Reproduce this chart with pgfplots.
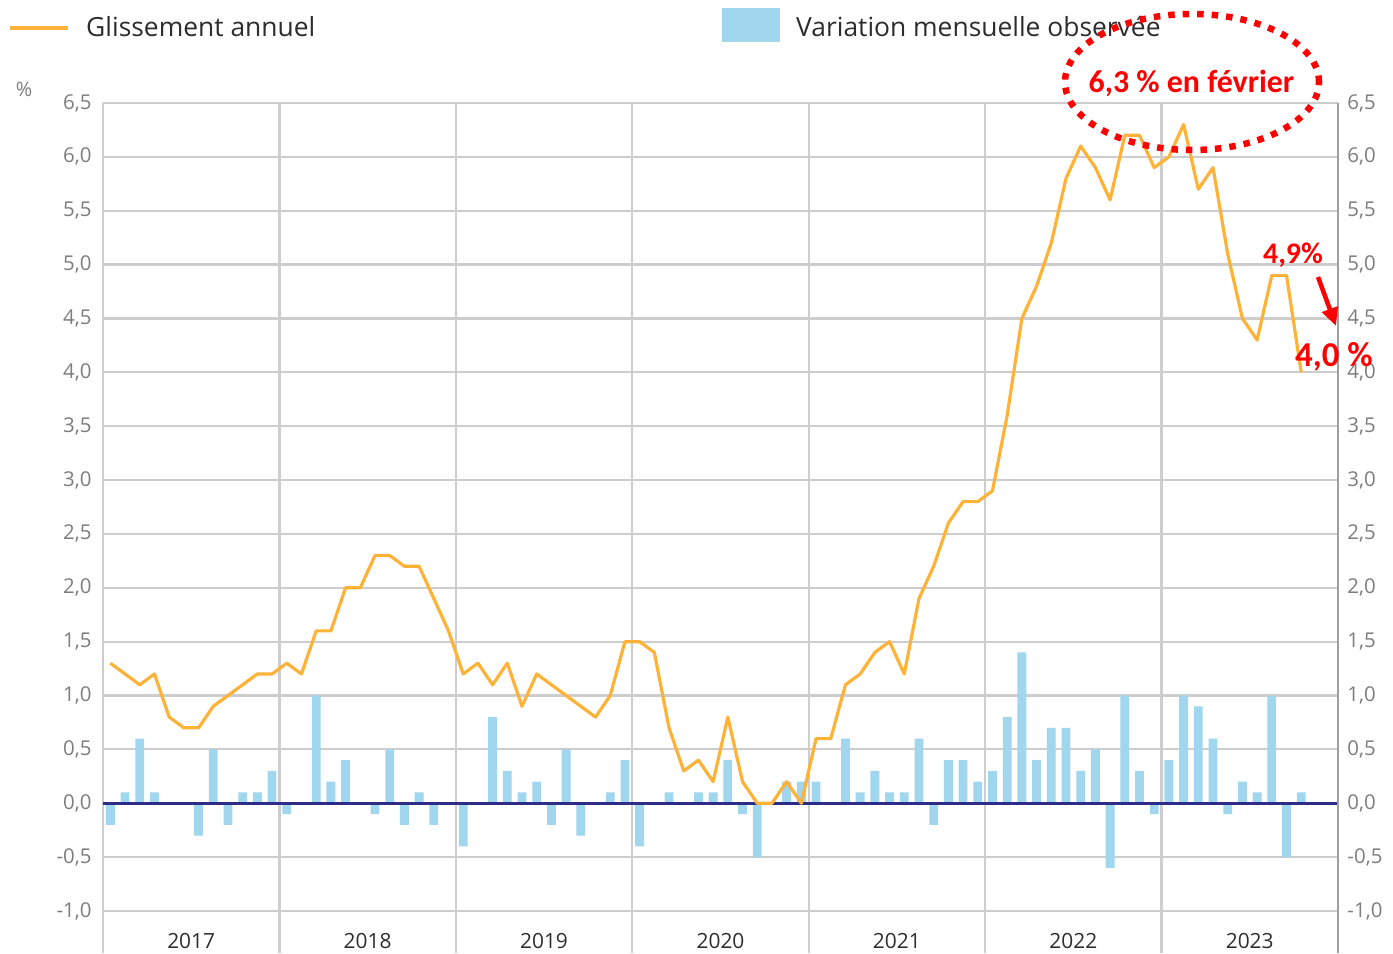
\documentclass[border=0pt]{standalone}
\usepackage{fontspec}
\setmainfont{Open Sans}
\newfontfamily\calib{Carlito}
\usepackage{pgfplots}
\pgfplotsset{compat=1.18}
\usetikzlibrary{arrows.meta}
\definecolor{lineorange}{RGB}{255,178,56}
\definecolor{barblue}{RGB}{160,214,238}
\definecolor{gridgray}{RGB}{205,205,205}
\definecolor{axgray}{RGB}{160,160,160}
\definecolor{ticklab}{RGB}{125,125,125}
\definecolor{zeronavy}{RGB}{45,45,135}
\definecolor{annred}{RGB}{255,0,0}
\definecolor{legtext}{RGB}{45,45,45}

\pgfplotstableread{
x y
0.5 1.3
1.5 1.2
2.5 1.1
3.5 1.2
4.5 0.8
5.5 0.7
6.5 0.7
7.5 0.9
8.5 1.0
9.5 1.1
10.5 1.2
11.5 1.2
12.5 1.3
13.5 1.2
14.5 1.6
15.5 1.6
16.5 2.0
17.5 2.0
18.5 2.3
19.5 2.3
20.5 2.2
21.5 2.2
22.5 1.9
23.5 1.6
24.5 1.2
25.5 1.3
26.5 1.1
27.5 1.3
28.5 0.9
29.5 1.2
30.5 1.1
31.5 1.0
32.5 0.9
33.5 0.8
34.5 1.0
35.5 1.5
36.5 1.5
37.5 1.4
38.5 0.7
39.5 0.3
40.5 0.4
41.5 0.2
42.5 0.8
43.5 0.2
44.5 0.0
45.5 0.0
46.5 0.2
47.5 0.0
48.5 0.6
49.5 0.6
50.5 1.1
51.5 1.2
52.5 1.4
53.5 1.5
54.5 1.2
55.5 1.9
56.5 2.2
57.5 2.6
58.5 2.8
59.5 2.8
60.5 2.9
61.5 3.6
62.5 4.5
63.5 4.8
64.5 5.2
65.5 5.8
66.5 6.1
67.5 5.9
68.5 5.6
69.5 6.2
70.5 6.2
71.5 5.9
72.5 6.0
73.5 6.3
74.5 5.7
75.5 5.9
76.5 5.1
77.5 4.5
78.5 4.3
79.5 4.9
80.5 4.9
81.5 4.0
}\annuel

\pgfplotstableread{
x y
0.5 -0.2
1.5 0.1
2.5 0.6
3.5 0.1
4.5 0
5.5 0
6.5 -0.3
7.5 0.5
8.5 -0.2
9.5 0.1
10.5 0.1
11.5 0.3
12.5 -0.1
13.5 0
14.5 1.0
15.5 0.2
16.5 0.4
17.5 0
18.5 -0.1
19.5 0.5
20.5 -0.2
21.5 0.1
22.5 -0.2
23.5 0
24.5 -0.4
25.5 0
26.5 0.8
27.5 0.3
28.5 0.1
29.5 0.2
30.5 -0.2
31.5 0.5
32.5 -0.3
33.5 0
34.5 0.1
35.5 0.4
36.5 -0.4
37.5 0
38.5 0.1
39.5 0
40.5 0.1
41.5 0.1
42.5 0.4
43.5 -0.1
44.5 -0.5
45.5 0
46.5 0.2
47.5 0.2
48.5 0.2
49.5 0
50.5 0.6
51.5 0.1
52.5 0.3
53.5 0.1
54.5 0.1
55.5 0.6
56.5 -0.2
57.5 0.4
58.5 0.4
59.5 0.2
60.5 0.3
61.5 0.8
62.5 1.4
63.5 0.4
64.5 0.7
65.5 0.7
66.5 0.3
67.5 0.5
68.5 -0.6
69.5 1.0
70.5 0.3
71.5 -0.1
72.5 0.4
73.5 1.0
74.5 0.9
75.5 0.6
76.5 -0.1
77.5 0.2
78.5 0.1
79.5 1.0
80.5 -0.5
81.5 0.1
}\mensuel

\begin{document}
\begin{tikzpicture}[x=1bp,y=1bp]
\useasboundingbox (0,0) rectangle (1393,953);
\begin{axis}[
  at={(103bp,0bp)}, anchor=south west,
  width=1235bp, height=850bp, scale only axis,
  xmin=0, xmax=84, ymin=-1.39, ymax=6.5,
  xtick={0,12,24,36,48,60,72,84}, xticklabels={},
  ytick={-1,-0.5,0,0.5,1,1.5,2,2.5,3,3.5,4,4.5,5,5.5,6,6.5},
  grid=major, major grid style={gridgray, line width=2.2bp},
  major tick length=0pt,
  axis line style={axgray, line width=2bp},
  x axis line style={draw=none},
  yticklabel style={font=\fontsize{20.5}{24}\selectfont, text=ticklab, xshift=-8bp,
    /pgf/number format/.cd, fixed, fixed zerofill, precision=1, use comma, assume math mode=true},
  clip=false,
]
\addplot[ybar, bar width=0.6, fill=barblue, draw=none] table[x=x,y=y] {\mensuel};
\draw[zeronavy, line width=2.5bp] (axis cs:0,0) -- (axis cs:84,0);
\addplot[lineorange, line width=3.2bp, mark=none, line join=round] table[x=x,y=y] {\annuel};
\end{axis}
\begin{axis}[
  at={(103bp,0bp)}, anchor=south west,
  width=1235bp, height=850bp, scale only axis,
  xmin=0, xmax=84, ymin=-1.39, ymax=6.5,
  axis x line=none, axis y line*=right,
  ytick={-1,-0.5,0,0.5,1,1.5,2,2.5,3,3.5,4,4.5,5,5.5,6,6.5},
  major tick length=0pt,
  axis line style={axgray, line width=2bp},
  yticklabel style={font=\fontsize{20.5}{24}\selectfont, text=ticklab, xshift=6bp,
    /pgf/number format/.cd, fixed, fixed zerofill, precision=1, use comma, assume math mode=true},
]
\addplot[draw=none] coordinates {(0,0)};
\end{axis}
% year labels
\foreach \yr/\xx in {2017/191.2,2018/367.6,2019/544.0,2020/720.5,2021/896.9,2022/1073.3,2023/1249.7}
  \node[anchor=base, font=\fontsize{21}{24}\selectfont, text=legtext] at (\xx,5) {\yr};
% percent unit
\node[font=\fontsize{20}{24}\selectfont, text=ticklab] at (24,864) {\%};
% legend
\draw[lineorange, line width=3.2bp] (10,925) -- (68,925);
\node[anchor=base west, inner sep=0pt, font=\fontsize{26.5}{30}\selectfont, text=legtext] at (86,916) {Glissement annuel};
\fill[barblue] (722,911) rectangle (780,945);
\node[anchor=base west, inner sep=0pt, font=\fontsize{26.5}{30}\selectfont, text=legtext] at (796,916) {Variation mensuelle observée};
% annotations
\draw[annred, line width=6.5bp, dash pattern=on 6.5bp off 8bp] (1192,871) ellipse [x radius=127, y radius=68];
\node[anchor=base, inner sep=0pt, text=annred, font=\calib\bfseries\fontsize{32}{36}\selectfont] at (1191.5,860) {6,3 \% en février};
\node[anchor=base, inner sep=0pt, text=annred, font=\calib\bfseries\fontsize{30}{34}\selectfont] at (1293,689) {4,9\%};
\node[anchor=base, inner sep=0pt, text=annred, font=\calib\bfseries\fontsize{35}{40}\selectfont] at (1334,586) {4,0 \%};
\draw[annred, line width=4.5bp, -{Triangle[length=18bp,width=16bp]}] (1318,676) -- (1336,627);
\end{tikzpicture}
\end{document}
